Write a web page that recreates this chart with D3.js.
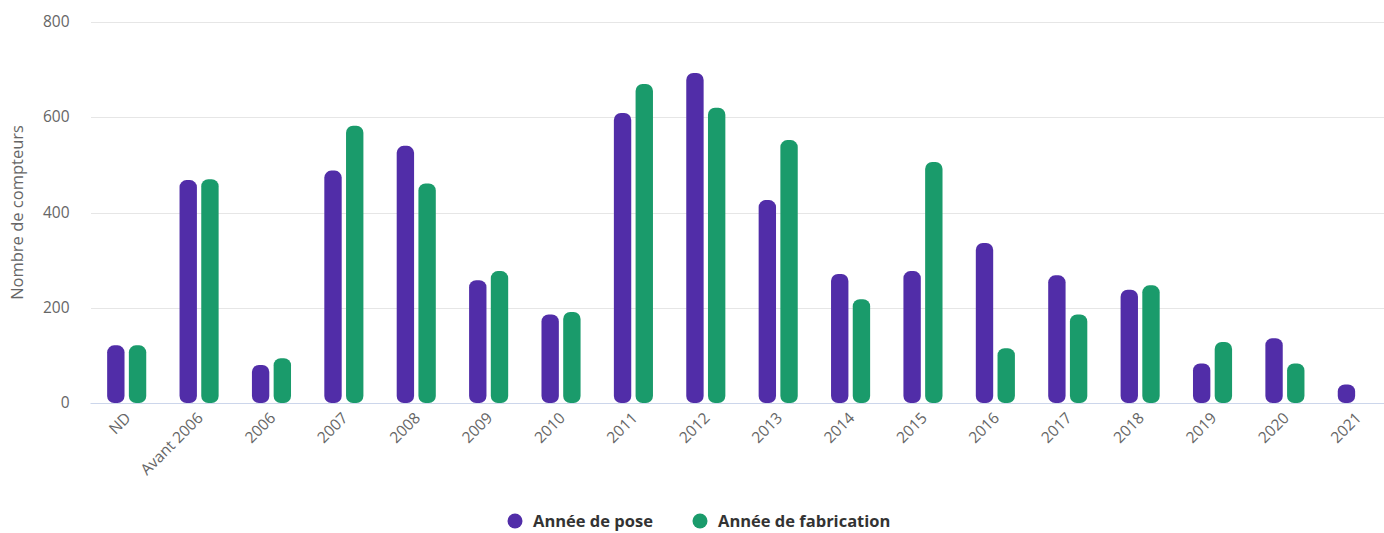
<!doctype html>
<html lang='fr'>
<head>
<meta charset='UTF-8'>
<title>Compteurs</title>
<style>
  body, html { margin: 0; padding: 0; background: #fff; }
  svg { display: block; font-family: 'Open Sans', sans-serif; }
  .grid line { stroke: #e6e6e6; stroke-width: 1; shape-rendering: crispEdges; }
  .tick-label { fill: #666; font-size: 15.5px; }
  .axis-title { fill: #666; font-size: 16.5px; }
  .legend-label { fill: #333; font-size: 16.5px; font-weight: bold; }
</style>
</head>
<body>
<script src='https://d3js.org/d3.v7.min.js'></script>
<script>
  const categories = ['ND', 'Avant 2006', '2006', '2007', '2008', '2009', '2010', '2011', '2012',
    '2013', '2014', '2015', '2016', '2017', '2018', '2019', '2020', '2021']
  const seriesNames = ['Année de pose', 'Année de fabrication']
  const poseValues = [121, 468, 80, 488, 540, 258, 186, 609, 693, 426, 271, 277, 336, 268, 238, 83, 136, 39]
  const fabricationValues = [121, 470, 94, 582, 461, 277, 191, 670, 620, 552, 218, 506, 115, 186, 247, 128, 83, null]
  const yTicks = [0, 200, 400, 600, 800]
  const colors = ['#512da8', '#1a9b6b']

  const w = 1384
  const h = 533
  const plot = {left: 90.5, right: 1393.5, top: 22, bottom: 403}

  const svg = d3.select('body').append('svg')
    .attr('width', w)
    .attr('height', h)

  const x0 = d3.scaleBand()
    .domain(categories)
    .range([plot.left, plot.right])
    .padding(0)

  const bw = x0.bandwidth()
  const x1 = d3.scaleBand()
    .domain(seriesNames)
    .range([bw * 0.2, bw * 0.8])
    .paddingInner(0.2)
    .paddingOuter(0.1)

  const y = d3.scaleLinear()
    .domain([0, 800])
    .range([plot.bottom, plot.top])

  // gridlines
  svg.append('g').attr('class', 'grid')
    .selectAll('line')
    .data(yTicks.filter(d => d > 0))
    .join('line')
    .attr('x1', plot.left)
    .attr('x2', w)
    .attr('y1', d => Math.round(y(d)) + 0.5)
    .attr('y2', d => Math.round(y(d)) + 0.5)

  // y labels
  svg.append('g')
    .selectAll('text')
    .data(yTicks)
    .join('text')
    .attr('class', 'tick-label')
    .attr('x', 69.5)
    .attr('y', d => y(d) + 5)
    .attr('text-anchor', 'end')
    .text(d => d)

  // y title
  svg.append('text')
    .attr('class', 'axis-title')
    .attr('transform', `translate(23, ${(plot.top + plot.bottom) / 2}) rotate(-90)`)
    .attr('text-anchor', 'middle')
    .text('Nombre de compteurs')

  // bars
  const rows = categories.map((c, i) => ({cat: c, vals: [poseValues[i], fabricationValues[i]]}))
  const groups = svg.append('g')
    .selectAll('g')
    .data(rows)
    .join('g')
    .attr('transform', d => `translate(${x0(d.cat)},0)`)

  groups.selectAll('rect')
    .data(d => d.vals.map((v, j) => ({name: seriesNames[j], value: v, idx: j})).filter(e => e.value != null))
    .join('rect')
    .attr('x', d => x1(d.name))
    .attr('y', d => y(d.value))
    .attr('width', x1.bandwidth())
    .attr('height', d => plot.bottom - y(d.value))
    .attr('rx', d => Math.min(7, (plot.bottom - y(d.value)) / 2))
    .attr('fill', d => colors[d.idx])

  // x axis line
  svg.append('line')
    .attr('x1', plot.left)
    .attr('x2', w)
    .attr('y1', plot.bottom + 0.5)
    .attr('y2', plot.bottom + 0.5)
    .attr('stroke', '#ccd6eb')

  // x labels
  svg.append('g')
    .selectAll('text')
    .data(categories)
    .join('text')
    .attr('class', 'tick-label')
    .attr('text-anchor', 'end')
    .attr('transform', d => `translate(${x0(d) + bw / 2 + 5}, ${plot.bottom + 16}) rotate(-45)`)
    .text(d => d)

  // legend
  const legendItems = [{name: seriesNames[0], x: 515}, {name: seriesNames[1], x: 700}]
  const legend = svg.append('g')
    .selectAll('g')
    .data(legendItems)
    .join('g')
    .attr('transform', d => `translate(${d.x}, 521)`)
  legend.append('circle')
    .attr('r', 7.5)
    .attr('fill', (d, i) => colors[i])
  legend.append('text')
    .attr('class', 'legend-label')
    .attr('x', 18)
    .attr('y', 6)
    .text(d => d.name)
</script>
</body>
</html>
